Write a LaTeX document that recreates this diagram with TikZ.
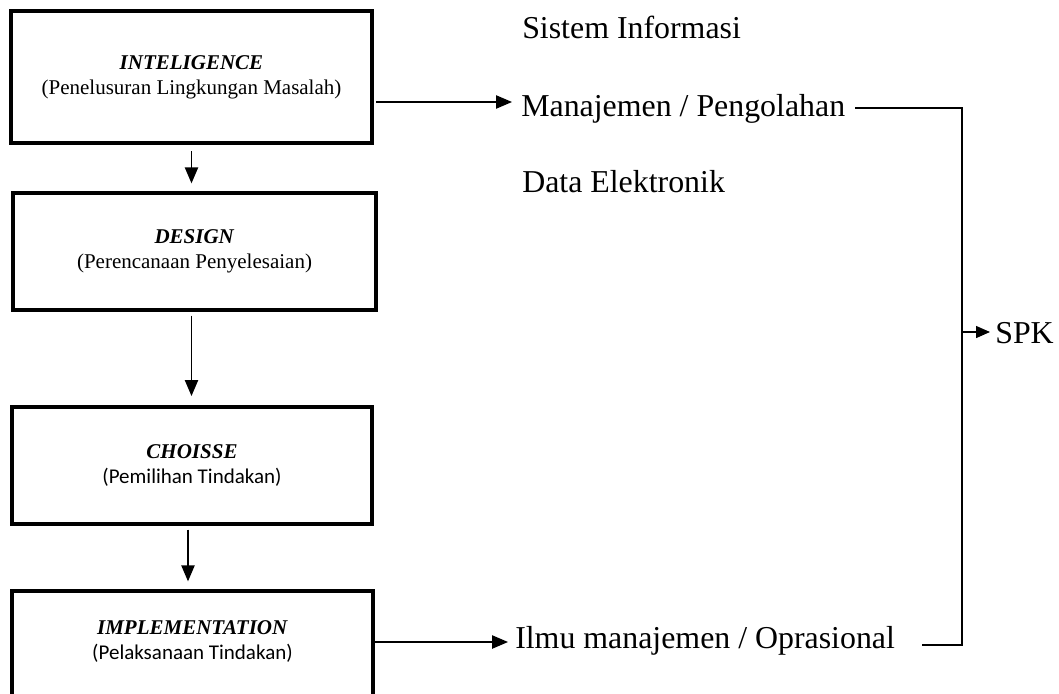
\documentclass[tikz,border=0pt]{standalone}
\usepackage{fontspec}
\setmainfont{Liberation Serif}
\newfontfamily\calibrifont{Carlito}
\usetikzlibrary{arrows.meta,calc}
\tikzset{
  stagebox/.style={draw, line width=2.5pt, align=center, inner sep=0pt,
    font=\fontsize{15.75}{18.75}\selectfont},
  bigtext/.style={inner sep=0pt, anchor=base west, font=\fontsize{23.9}{28}\selectfont},
  conn/.style={line width=1pt},
  arr/.style={conn, -{Triangle[length=12pt,width=10pt]}},
  smallarr/.style={conn, -{Triangle[length=10.5pt,width=9pt]}}
}
\begin{document}
\begin{tikzpicture}[x=0.75pt,y=-0.75pt]
\useasboundingbox (0,0) rectangle (1059,693);
\clip (0,0) rectangle (1059,693);
% stage boxes
\node[stagebox, minimum width=270.75pt, minimum height=99pt] (b1) at (191.5,77)
  {\textbf{\textit{INTELIGENCE}}\\(Penelusuran Lingkungan Masalah)};
\node[stagebox, minimum width=272.25pt, minimum height=87.75pt] (b2) at (194.5,251.5)
  {\textbf{\textit{DESIGN}}\\(Perencanaan Penyelesaian)};
\node[stagebox, minimum width=270pt, minimum height=87.75pt] (b3) at (192,465.5)
  {\textbf{\textit{CHOISSE}}\\{\calibrifont (Pemilihan Tindakan)}};
\node[stagebox, minimum width=270.75pt, minimum height=87.75pt, text depth=14.5pt] (b4) at (192.5,649.5)
  {\textbf{\textit{IMPLEMENTATION}}\\{\calibrifont (Pelaksanaan Tindakan)}};
% right texts
\node[bigtext] (si) at (522,38) {Sistem Informasi};
\node[bigtext] (m) at (521,116) {Manajemen / Pengolahan};
\node[bigtext] (de) at (522,192) {Data Elektronik};
\node[bigtext] (il) at (515,648) {Ilmu manajemen / Oprasional};
\node[bigtext] (spk) at (995,343) {SPK};
% coordinates
\coordinate (a1s) at (372,102);
\coordinate (a1e) at (512,102);
\coordinate (a4e) at (508,642);
\coordinate (mEnd) at (855,108);
\coordinate (brTop) at (962,108);
\coordinate (brBot) at (962,645);
\coordinate (ilEnd) at (922,645);
\coordinate (brMid) at (962,332);
\coordinate (spkIn) at (990,332);
% vertical flow arrows
\draw[arr, shorten <=5pt, shorten >=6pt] (b1.south) -- (b1.south |- b2.north);
\draw[arr, shorten <=3pt, shorten >=7pt] (b2.south -| b1.south) -- (b3.north -| b1.south);
\draw[arr, shorten <=3pt, shorten >=6pt] ([xshift=-3pt]b3.south) -- ([xshift=-3pt]b3.south |- b4.north);
% horizontal arrows
\draw[arr, shorten <=3pt] (a1s) -- (a1e);
\draw[arr] (b4.east |- a4e) -- (a4e);
% bracket to SPK
\draw[conn] (mEnd) -- (brTop) -- (brBot) -- (ilEnd);
\draw[smallarr] (brMid) -- (spkIn);
\end{tikzpicture}
\end{document}
